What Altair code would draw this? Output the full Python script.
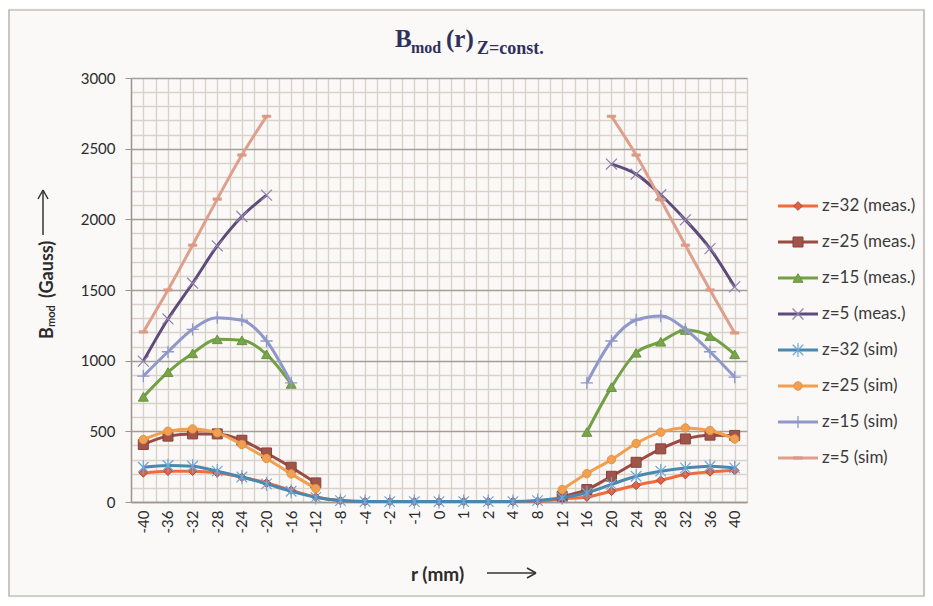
import json
import altair as alt
import pandas as pd

# ---------------- data ----------------
r_labels = ["-40", "-36", "-32", "-28", "-24", "-20", "-16", "-12", "-8", "-4", "-2", "-1",
            "0", "1", "2", "4", "8", "12", "16", "20", "24", "28", "32", "36", "40"]

series_names = ["z=32 (meas.)", "z=25 (meas.)", "z=15 (meas.)", "z=5 (meas.)",
                "z=32 (sim)", "z=25 (sim)", "z=15 (sim)", "z=5 (sim)"]

N = None
z32_meas = [206, 218, 218, 206, 175, 135, 83, 35, 10, 3, 3, 3, 3, 3, 3, 3, 5, 22, 35, 76, 118, 154, 194, 213, 223]
z25_meas = [407, 466, 482, 482, 437, 347, 246, 135, N, N, N, N, N, N, N, N, N, 40, 88, 182, 281, 376, 446, 473, 471]
z15_meas = [744, 919, 1052, 1151, 1144, 1045, 836, N, N, N, N, N, N, N, N, N, N, N, 495, 813, 1056, 1134, 1217, 1174, 1045]
z5_meas = [997, 1295, 1548, 1812, 2020, 2171, N, N, N, N, N, N, N, N, N, N, N, N, N, 2391, 2320, 2174, 1996, 1793, 1522]
z32_sim = [246, 258, 253, 218, 177, 128, 76, 33, 10, 3, 3, 3, 3, 3, 3, 3, 10, 30, 65, 125, 182, 218, 241, 253, 241]
z25_sim = [442, 501, 517, 489, 407, 308, 199, 95, N, N, N, N, N, N, N, N, N, 88, 201, 300, 414, 494, 524, 506, 446]
z15_sim = [891, 1063, 1222, 1304, 1286, 1139, 843, N, N, N, N, N, N, N, N, N, N, N, 843, 1139, 1288, 1316, 1222, 1063, 884]
z5_sim = [1203, 1500, 1817, 2143, 2455, 2729, N, N, N, N, N, N, N, N, N, N, N, N, N, 2729, 2455, 2138, 1817, 1500, 1196]

series_values = [z32_meas, z25_meas, z15_meas, z5_meas, z32_sim, z25_sim, z15_sim, z5_sim]

# ---------------- styles ----------------
X_PATH = "M-1,-1L1,1M-1,1L1,-1"
STAR_PATH = "M-1,-1L1,1M-1,1L1,-1M0,-1.35L0,1.35"
PLUS_PATH = "M-1,0L1,0M0,-1L0,1"
DASH_PATH = "M-1,-0.3L1,-0.3L1,0.3L-1,0.3Z"

styles = [
    dict(line="#f26b38", shape="diamond", filled=True, fill="#e8603a", stroke="#a84a48", size=75, sw=1),
    dict(line="#9b4b42", shape="square", filled=True, fill="#a0554b", stroke="#8a4038", size=100, sw=1),
    dict(line="#73a044", shape="triangle-up", filled=True, fill="#78a54a", stroke="#6a9440", size=100, sw=1),
    dict(line="#5f4b7a", shape=X_PATH, filled=False, fill="none", stroke="#8f7fae", size=120, sw=1.2),
    dict(line="#4a88ae", shape=STAR_PATH, filled=False, fill="none", stroke="#6fa6d6", size=110, sw=1.2),
    dict(line="#f2a04f", shape="circle", filled=True, fill="#f0a050", stroke="#e49445", size=70, sw=1),
    dict(line="#8f98c8", shape=PLUS_PATH, filled=False, fill="none", stroke="#8f98c8", size=150, sw=1.3),
    dict(line="#dea08c", shape=DASH_PATH, filled=True, fill="#dc9a85", stroke="#dc9a85", size=75, sw=0.5),
]

MINOR = "#d9d2ca"
MAJOR = "#a59e96"
AXISC = "#9d968f"
TEXTC = "#2b2b2b"
BG = "#faf9f7"
FONT = "Lato"


def to_frame(name, vals):
    rows, seg, gap = [], 0, False
    for i, v in enumerate(vals):
        if v is None:
            gap = True
            continue
        if gap and rows:
            seg += 1
        gap = False
        rows.append({"idx": i, "r": r_labels[i], "B": v, "seg": seg, "series": name})
    return pd.DataFrame(rows)


label_expr = "datum.value % 1 === 0 ? " + json.dumps(r_labels) + "[datum.value] : ''"

x_axis = alt.Axis(values=[i / 2 - 0.5 for i in range(51)], labelExpr=label_expr,
                  labelAngle=-90, labelOverlap=False, labelFlush=False, labelBound=False,
                  grid=True, gridColor=MINOR, gridWidth=1.4, ticks=False,
                  domainColor=AXISC, domainWidth=1.4, labelFontSize=15, labelFont=FONT,
                  labelColor=TEXTC, labelPadding=8, title=None)
y_axis = alt.Axis(values=list(range(0, 3001, 100)), format="d",
                  labelExpr="datum.value % 500 === 0 ? datum.label : ''",
                  grid=True, gridWidth=1.4,
                  gridColor={"condition": {"test": "datum.value % 500 === 0", "value": MAJOR}, "value": MINOR},
                  tickColor={"condition": {"test": "datum.value % 500 === 0", "value": AXISC}, "value": "transparent"},
                  tickSize=6, domainColor=AXISC, domainWidth=1.4, labelFontSize=15,
                  labelFont=FONT, labelColor=TEXTC, labelPadding=10, title=None)

X = alt.X("idx:Q", scale=alt.Scale(domain=[-0.5, 24.5], nice=False, zero=False), axis=x_axis)
Y = alt.Y("B:Q", scale=alt.Scale(domain=[0, 3000], nice=False), axis=y_axis)

main_layers = []
for name, vals, st in zip(series_names, series_values, styles):
    df = to_frame(name, vals)
    base = alt.Chart(df)
    line = base.mark_line(color=st["line"], strokeWidth=3, interpolate="monotone").encode(
        x=X, y=Y, detail="seg:N", order="idx:Q")
    pt = base.mark_point(shape=st["shape"], filled=st["filled"], fill=st["fill"], stroke=st["stroke"],
                         strokeWidth=st["sw"], size=st["size"], opacity=1).encode(x=X, y=Y)
    main_layers += [line, pt]

main = alt.layer(*main_layers)

# ---------------- legend ----------------
LY = alt.Y("rank:O", scale=alt.Scale(type="point", domain=list(range(8)), range=[128, 380], padding=0),
           axis=None)
legend_layers = []
for i, (name, st) in enumerate(zip(series_names, styles)):
    ldf = pd.DataFrame({"rank": [i], "name": [name]})
    lb = alt.Chart(ldf)
    legend_layers.append(lb.mark_rule(color=st["line"], strokeWidth=3).encode(
        x=alt.value(647), x2=alt.value(687), y=LY))
    legend_layers.append(lb.mark_point(shape=st["shape"], filled=st["filled"], fill=st["fill"],
                                       stroke=st["stroke"], strokeWidth=st["sw"], size=st["size"],
                                       opacity=1).encode(x=alt.value(667), y=LY))
    legend_layers.append(lb.mark_text(align="left", baseline="middle", fontSize=17, font=FONT,
                                      color="#3a3a3a").encode(x=alt.value(691), y=LY, text="name:N"))
legend = alt.layer(*legend_layers)

# ---------------- titles / decorations ----------------
one = pd.DataFrame({"k": [0]})


def txt(t, x, y, size, bold=True, font=FONT, color=TEXTC, angle=0, baseline="alphabetic"):
    kw = dict(text=t, align="left", baseline=baseline, fontSize=size, font=font, color=color,
              fontWeight="bold" if bold else "normal")
    if angle:
        kw["angle"] = angle
    return alt.Chart(one).mark_text(**kw).encode(x=alt.value(x), y=alt.value(y))


def seg(x1, y1, x2, y2, color="#333333", w=1.5):
    return alt.Chart(one).mark_rule(color=color, strokeWidth=w).encode(
        x=alt.value(x1), x2=alt.value(x2), y=alt.value(y1), y2=alt.value(y2))


TC = "#30305c"
SERIF = "Liberation Serif"
deco = [
    alt.Chart(one).mark_rect(fillOpacity=0, stroke="#aaa59f", strokeWidth=1.2).encode(
        x=alt.value(-122), x2=alt.value(793), y=alt.value(-68), y2=alt.value(518)),
    # chart title  B_mod (r)_Z=const.
    txt("B", 264, -31, 25, font=SERIF, color=TC),
    txt("mod", 280, -25, 16, font=SERIF, color=TC),
    txt("(r)", 315, -31, 25, font=SERIF, color=TC),
    txt("Z=const.", 346, -24, 18, font=SERIF, color=TC),
    # y title
    txt("B", -78, 261, 18, angle=270),
    txt("mod", -76, 249, 11, angle=270),
    txt("(Gauss)", -78, 220, 18, angle=270),
    seg(-88, 157, -88, 113),
    seg(-88, 112, -93, 121),
    seg(-88, 112, -83, 121),
    # x title
    txt("r (mm)", 280, 503, 19),
    seg(356, 495, 404, 495),
    seg(405, 495, 396, 490),
    seg(405, 495, 396, 500),
]

chart = alt.layer(main, legend, *deco).resolve_scale(y="independent").properties(
    width=616, height=424,
    padding={"left": 123, "top": 70, "right": 178, "bottom": 96},
    autosize=alt.AutoSizeParams(type="none"),
    background=BG,
).configure_view(strokeWidth=0)

chart.save("out.html", embed_options={"renderer": "svg", "actions": False})
